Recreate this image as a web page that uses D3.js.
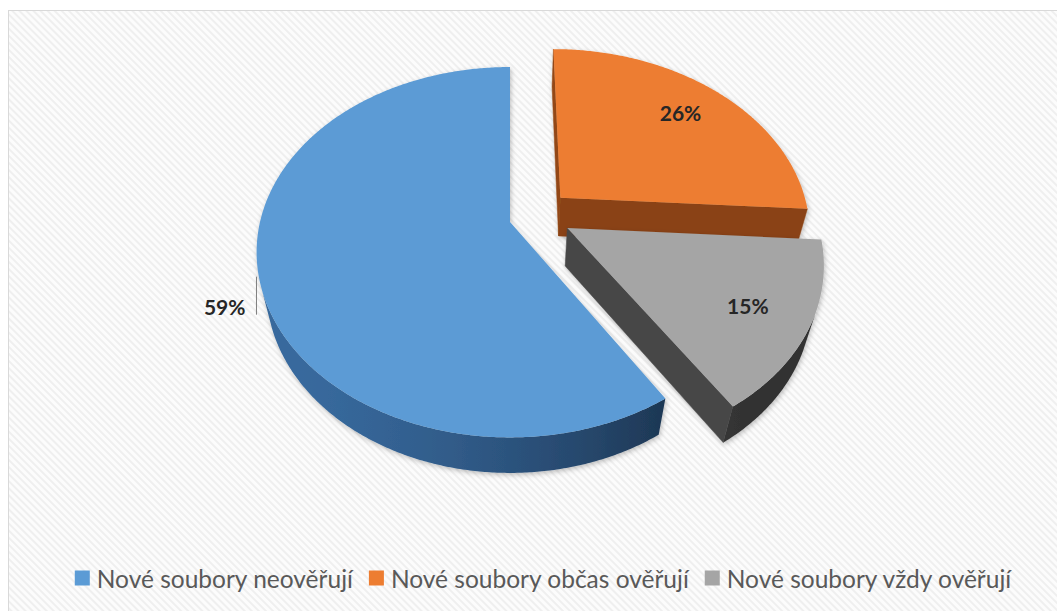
<!DOCTYPE html>
<html>
<head>
<meta charset="utf-8">
<script src="https://cdn.jsdelivr.net/npm/d3@7"></script>
<style>
  html, body { margin: 0; padding: 0; background: #ffffff; }
  svg { display: block; }
</style>
</head>
<body>
<svg id="chart" width="1057" height="611"></svg>
<script>
// ---- data ----
const categories = ["Nové soubory neověřují", "Nové soubory občas ověřují", "Nové soubory vždy ověřují"];
const shares = [59, 26, 15];
const shareLabels = ["59%", "26%", "15%"];

// ---- styling ----
const topColors   = ["#5b9bd5", "#ed7d31", "#a5a5a5"];
const sideDark    = ["#1c3450", "#6c310a", "#333333"];
const sideLight   = ["#3c72aa", "#a3501a", "#4a4a4a"];
// slice pull-out in pie-plane units (radius = 1): [across, depth]
const explode     = [[0, 0], [0.206, 0.137], [0.228, -0.033]];

const W = 1057, H = 611;
const svg = d3.select("#chart");
const defs = svg.append("defs");

// faint diagonal hatch of the chart area
const hatch = defs.append("pattern")
  .attr("id", "hatch").attr("patternUnits", "userSpaceOnUse")
  .attr("width", 5).attr("height", 5)
  .attr("patternTransform", "rotate(-45)");
hatch.append("rect").attr("width", 5).attr("height", 5).attr("fill", "#fcfcfc");
hatch.append("rect").attr("width", 2).attr("height", 5).attr("fill", "#efefef");

const shadow = defs.append("filter").attr("id", "soft")
  .attr("x", "-20%").attr("y", "-20%").attr("width", "140%").attr("height", "140%");
shadow.append("feDropShadow")
  .attr("dx", 1).attr("dy", 2).attr("stdDeviation", 2.5)
  .attr("flood-color", "#000").attr("flood-opacity", 0.25);

svg.append("rect").attr("width", W).attr("height", H).attr("fill", "#ffffff");
svg.append("rect")
  .attr("x", 8.5).attr("y", 10.5).attr("width", W + 20).attr("height", H + 20)
  .attr("fill", "url(#hatch)").attr("stroke", "#d9d9d9").attr("stroke-width", 1);

// ---- 3D projection of the pie plane ----
// u: to the right, v: away from the viewer, h: up (top face at h = 0)
const view = { cx: 510, cy: 222, k: 250, sinA: 0.721, cosA: 0.692, D: 4.24, T: 0.228 };
const camera = [0, -view.D * view.cosA, view.D * view.sinA];
const light = [-0.7, -0.5, 0.5];

function project(u, v, h) {
  const yv = v * view.sinA + h * view.cosA;
  const dep = v * view.cosA - h * view.sinA;
  const s = view.D / (view.D + dep);
  return [view.cx + view.k * u * s, view.cy - view.k * yv * s];
}
function facing(n, p) {
  return n[0] * (camera[0] - p[0]) + n[1] * (camera[1] - p[1]) + n[2] * (camera[2] - p[2]) > 0.03;
}
function lit(i, n) {
  const t = Math.max(0, Math.min(1, n[0] * light[0] + n[1] * light[1] + n[2] * light[2]));
  return d3.interpolateRgb(sideDark[i], sideLight[i])(t);
}

const poly = d3.line().curve(d3.curveLinearClosed);

const total = d3.sum(shares);
const firstAngle = -2 * Math.PI * shares[0] / total;
const arcs = d3.pie().sort(null).value(d => d)
  .startAngle(firstAngle).endAngle(firstAngle + 2 * Math.PI)(shares);

// draw far slices first
const drawOrder = arcs.map((a, i) => {
  const mid = (a.startAngle + a.endAngle) / 2;
  return { a, i, depth: explode[i][1] + 0.5 * Math.cos(mid) };
}).sort((p, q) => q.depth - p.depth);

const pieG = svg.append("g");
let gradId = 0;

drawOrder.forEach(({ a, i }) => {
  const [ou, ov] = explode[i];
  const T = view.T;
  const g = pieG.append("g").attr("filter", "url(#soft)");
  const P3 = (th, r, h) => [ou + r * Math.sin(th), ov + r * Math.cos(th), h];
  const P = (th, r, h) => project(...P3(th, r, h));

  const span = a.endAngle - a.startAngle;
  const n = Math.max(8, Math.ceil(span / (Math.PI / 360)));
  const thetas = d3.range(n + 1).map(j => a.startAngle + span * j / n);

  // radial faces
  const radial = [
    { th: a.startAngle, n: [-Math.cos(a.startAngle), Math.sin(a.startAngle), 0] },
    { th: a.endAngle,   n: [Math.cos(a.endAngle), -Math.sin(a.endAngle), 0] }
  ];
  radial.forEach(f => {
    if (!facing(f.n, P3(f.th, 0.5, -T / 2))) return;
    const c = lit(i, f.n);
    g.append("path")
      .attr("d", poly([P(f.th, 0, 0), P(f.th, 1, 0), P(f.th, 1, -T), P(f.th, 0, -T)]))
      .attr("fill", c).attr("stroke", c).attr("stroke-width", 0.5);
  });

  // curved outer wall: contiguous visible runs, each shaded with a gradient
  const vis = thetas.map(th => facing([Math.sin(th), Math.cos(th), 0], P3(th, 1, -T / 2)));
  const runs = [];
  let cur = null;
  thetas.forEach((th, j) => {
    if (vis[j]) { if (!cur) { cur = []; runs.push(cur); } cur.push(th); }
    else cur = null;
  });
  runs.filter(r => r.length > 1).forEach(run => {
    const topPts = run.map(th => P(th, 1, 0));
    const botPts = run.map(th => P(th, 1, -T)).reverse();
    const xs = topPts.map(p => p[0]);
    const x0 = d3.min(xs), x1 = d3.max(xs);
    const id = "wall" + (gradId++);
    const grad = defs.append("linearGradient").attr("id", id)
      .attr("gradientUnits", "userSpaceOnUse")
      .attr("x1", x0).attr("x2", x1).attr("y1", 0).attr("y2", 0);
    const stops = run.filter((_, j) => j % 6 === 0 || j === run.length - 1).map(th => ({
      off: x1 > x0 ? (P(th, 1, 0)[0] - x0) / (x1 - x0) : 0,
      col: lit(i, [Math.sin(th), Math.cos(th), 0])
    })).sort((p, q) => p.off - q.off);
    stops.forEach(s => grad.append("stop").attr("offset", s.off).attr("stop-color", s.col));
    g.append("path").attr("d", poly(topPts.concat(botPts)))
      .attr("fill", `url(#${id})`);
  });

  // top face
  const top = [P(a.startAngle, 0, 0)].concat(thetas.map(th => P(th, 1, 0)));
  g.append("path").attr("d", poly(top)).attr("fill", topColors[i]);
});

// ---- data labels ----
const labelFont = "Lato, 'Noto Sans', sans-serif";
const labelSize = 21;
arcs.forEach((a, i) => {
  const [ou, ov] = explode[i];
  const mid = (a.startAngle + a.endAngle) / 2;
  if (i === 0) {
    // outside label with a short leader line
    const e = project(ou + Math.sin(mid), ov + Math.cos(mid), 0);
    svg.append("line")
      .attr("x1", e[0] - 2).attr("y1", e[1] + 2)
      .attr("x2", e[0] - 2).attr("y2", e[1] + 40)
      .attr("stroke", "#7f7f7f").attr("stroke-width", 1);
    svg.append("text")
      .attr("x", e[0] - 13).attr("y", e[1] + 32)
      .attr("text-anchor", "end").attr("dominant-baseline", "central")
      .attr("font-family", labelFont).attr("font-weight", 700).attr("font-size", labelSize)
      .attr("fill", "#262626").text(shareLabels[i]);
  } else {
    const p = project(ou + 0.78 * Math.sin(mid), ov + 0.78 * Math.cos(mid), 0);
    svg.append("text")
      .attr("x", p[0] - 4).attr("y", p[1])
      .attr("text-anchor", "middle").attr("dominant-baseline", "central")
      .attr("font-family", labelFont).attr("font-weight", 700).attr("font-size", labelSize)
      .attr("fill", "#262626").text(shareLabels[i]);
  }
});

// ---- legend ----
const legendFont = "Lato, 'Noto Sans', sans-serif";
const legendSize = 24.5, sq = 15, sqGap = 7, itemGap = 16, legendCenter = 543, legendY = 578;
const legend = svg.append("g");
const items = categories.map((c, i) => {
  const gi = legend.append("g");
  gi.append("rect").attr("width", sq).attr("height", sq).attr("y", legendY - sq / 2)
    .attr("fill", topColors[i]);
  const t = gi.append("text")
    .attr("x", sq + sqGap).attr("y", legendY)
    .attr("dominant-baseline", "central")
    .attr("font-family", legendFont).attr("font-size", legendSize)
    .attr("fill", "#595959").text(c);
  return { gi, w: sq + sqGap + t.node().getComputedTextLength() };
});
const totalW = d3.sum(items, d => d.w) + itemGap * (items.length - 1);
let lx = legendCenter - totalW / 2;
items.forEach(d => { d.gi.attr("transform", `translate(${lx},0)`); lx += d.w + itemGap; });
</script>
</body>
</html>
